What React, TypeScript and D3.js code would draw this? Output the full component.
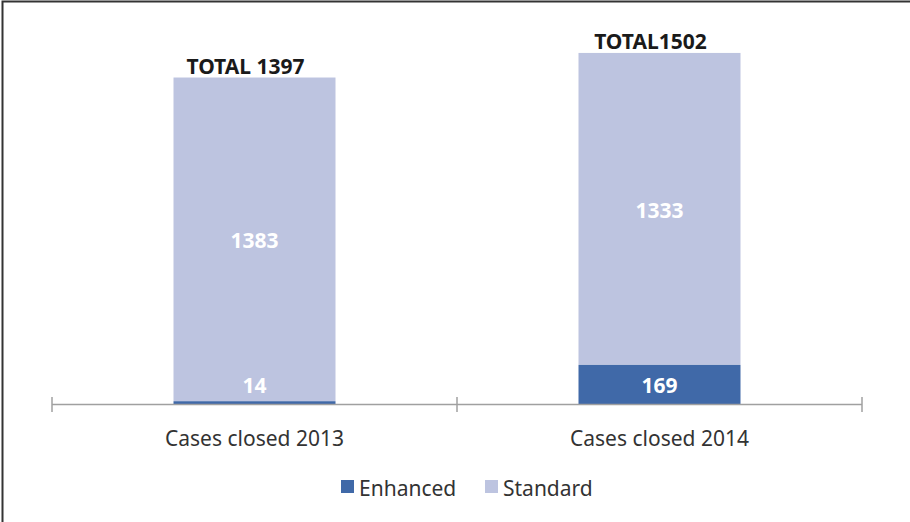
import React from "react";
import * as d3 from "d3";

const categories = ["Cases closed 2013", "Cases closed 2014"];
const enhanced = [14, 169];
const standard = [1383, 1333];
const totals = [1397, 1502];
const totalLabels = ["TOTAL 1397", "TOTAL1502"];
const seriesNames = ["Enhanced", "Standard"];

const W = 910;
const H = 522;
const colors = { Enhanced: "#4069a8", Standard: "#bdc4e0" };
const FONT = "'Noto Sans', 'Open Sans', sans-serif";

export default function App() {
  const x = d3.scaleBand<string>().domain(categories).range([52, 862]).paddingInner(0.6).paddingOuter(0.3);
  const y = d3.scaleLinear().domain([0, 1600]).range([404.5, 30]);
  const outer = d3.scaleBand<string>().domain(categories).range([52, 862]);
  const ticks = [52, ...categories.map((c) => (outer(c) as number) + outer.bandwidth())];

  return (
    <svg width={W} height={H} style={{ position: "absolute", left: 0, top: 0, background: "#fff" }}>
      <rect x={2.5} y={1.5} width={W + 10} height={H + 10} fill="#fff" stroke="#333" strokeWidth={2} />
      {categories.map((c, i) => {
        const bx = x(c) as number;
        const bw = x.bandwidth();
        const cx = bx + bw / 2;
        const e0 = y(0), e1 = y(enhanced[i]);
        const s1 = y(enhanced[i] + standard[i]);
        return (
          <g key={c}>
            <rect x={bx} y={s1} width={bw} height={e1 - s1} fill={colors.Standard} />
            <rect x={bx} y={e1} width={bw} height={e0 - e1} fill={colors.Enhanced} />
            <text x={cx} y={(s1 + e1) / 2 + 9} textAnchor="middle" fontFamily={FONT} fontWeight="bold" fontSize={21} fill="#fff">{standard[i]}</text>
            <text x={cx} y={385 + 8} textAnchor="middle" fontFamily={FONT} fontWeight="bold" fontSize={21} fill="#fff">{enhanced[i]}</text>
            <text x={cx - 9} y={y(totals[i]) - 4} textAnchor="middle" fontFamily={FONT} fontWeight="bold" fontSize={21} fill="#1a1a1a">{totalLabels[i]}</text>
            <text x={cx} y={446} textAnchor="middle" fontFamily={FONT} fontSize={21} fill="#333">{c}</text>
          </g>
        );
      })}
      <line x1={52} x2={862} y1={404.5} y2={404.5} stroke="#a0a0a0" strokeWidth={1.5} />
      {ticks.map((t, i) => (
        <line key={i} x1={t} x2={t} y1={397} y2={412} stroke="#a0a0a0" strokeWidth={1.5} />
      ))}
      <g fontFamily={FONT} fontSize={21} fill="#333">
        <rect x={341} y={480} width={13} height={13} fill={colors.Enhanced} />
        <text x={359} y={496}>{seriesNames[0]}</text>
        <rect x={485} y={480} width={13} height={13} fill={colors.Standard} />
        <text x={503} y={496}>{seriesNames[1]}</text>
      </g>
    </svg>
  );
}
